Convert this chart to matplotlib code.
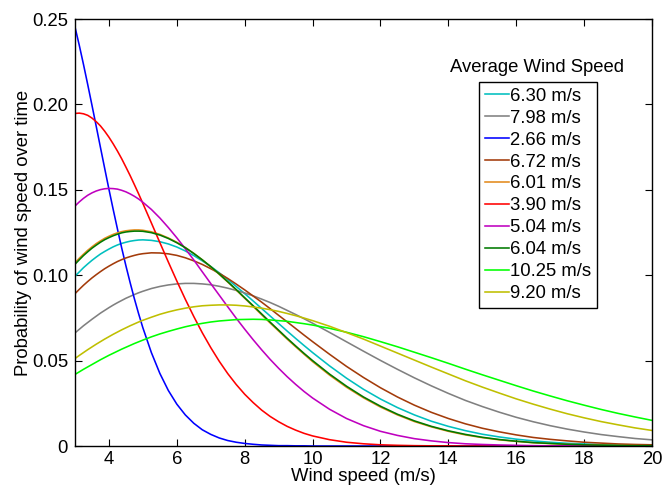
import numpy as np
import matplotlib
matplotlib.use("Agg")
import matplotlib.pyplot as plt

plt.rcParams['font.family'] = ['Liberation Sans', 'DejaVu Sans']

# Wind speed grid (m/s)
wind_speed = [3, 3.125, 3.25, 3.375, 3.5, 3.625, 3.75, 3.875, 4, 4.125, 4.25, 4.375, 4.5,
              4.625, 4.75, 4.875, 5,
              5.25, 5.5, 5.75, 6, 6.25, 6.5, 6.75, 7, 7.25, 7.5, 7.75, 8, 8.25, 8.5, 8.75,
              9, 9.25, 9.5, 9.75, 10,
              10.5, 11, 11.5, 12, 12.5, 13, 13.5, 14, 14.5, 15, 15.5, 16, 16.5, 17, 17.5,
              18, 18.5, 19, 19.5, 20]

labels = ['6.30 m/s', '7.98 m/s', '2.66 m/s', '6.72 m/s', '6.01 m/s',
          '3.90 m/s', '5.04 m/s', '6.04 m/s', '10.25 m/s', '9.20 m/s']

# Probability values, in units of 1e-4
p_630 = [994, 1019, 1044, 1066, 1087, 1106, 1124, 1139, 1153, 1166, 1177, 1186, 1193, 1199, 1203, 1206, 1207,
         1204, 1196, 1183, 1165, 1142, 1115, 1084, 1051, 1014, 975, 934, 892, 849, 805, 761, 717, 673, 630, 588, 547,
         469, 397, 332, 275, 225, 182, 145, 115, 90, 69, 53, 40, 30, 22, 16, 12, 8, 6, 4, 3]
p_798 = [662, 683, 704, 723, 742, 760, 778, 794, 810, 825, 839, 852, 865, 876, 887, 897, 906,
         922, 934, 943, 949, 952, 952, 949, 944, 935, 924, 911, 896, 879, 860, 840, 818, 794, 770, 745, 719,
         665, 610, 555, 501, 449, 399, 352, 308, 267, 231, 198, 168, 142, 119, 99, 82, 67, 55, 44, 36]
p_266 = [2453, 2347, 2234, 2116, 1995, 1872, 1748, 1625, 1503, 1385, 1271, 1160, 1055, 956, 862, 774, 692,
         547, 425, 325, 245, 182, 133, 95, 68, 47, 32, 22, 15, 10, 6, 4, 2, 2, 1, 1, 0,
         0, 0, 0, 0, 0, 0, 0, 0, 0, 0, 0, 0, 0, 0, 0, 0, 0, 0, 0, 0]
p_672 = [892, 917, 941, 963, 984, 1003, 1021, 1038, 1053, 1067, 1080, 1091, 1101, 1109, 1116, 1122, 1126,
         1131, 1130, 1125, 1116, 1102, 1084, 1063, 1038, 1011, 981, 948, 914, 878, 842, 804, 765, 727, 688, 649, 611,
         537, 466, 401, 341, 287, 239, 197, 161, 130, 104, 83, 65, 50, 39, 30, 22, 17, 12, 9, 7]
p_601 = [1073, 1099, 1123, 1146, 1166, 1185, 1201, 1216, 1228, 1239, 1248, 1255, 1260, 1263, 1265, 1265, 1263,
         1254, 1239, 1218, 1193, 1162, 1128, 1090, 1049, 1005, 960, 913, 865, 817, 768, 720, 673, 626, 581, 537, 494,
         415, 344, 282, 228, 182, 143, 112, 86, 65, 49, 36, 27, 19, 14, 10, 7, 5, 3, 2, 1]
p_390 = [1947, 1949, 1945, 1936, 1920, 1899, 1874, 1843, 1808, 1769, 1727, 1682, 1633, 1583, 1530, 1476, 1420,
         1306, 1191, 1077, 966, 859, 758, 663, 576, 496, 424, 360, 303, 254, 210, 173, 142, 115, 93, 74, 59,
         37, 22, 13, 7, 4, 2, 1, 1, 0, 0, 0, 0, 0, 0, 0, 0, 0, 0, 0, 0]
p_504 = [1405, 1429, 1450, 1468, 1482, 1493, 1501, 1506, 1508, 1507, 1504, 1497, 1488, 1476, 1462, 1446, 1427,
         1385, 1335, 1279, 1219, 1155, 1089, 1020, 951, 883, 815, 748, 684, 622, 563, 507, 455, 406, 361, 319, 281,
         215, 161, 119, 86, 62, 43, 30, 20, 13, 9, 6, 4, 2, 1, 1, 0, 0, 0, 0, 0]
p_604 = [1064, 1090, 1115, 1137, 1158, 1176, 1193, 1208, 1220, 1231, 1240, 1248, 1253, 1256, 1258, 1258, 1257,
         1249, 1235, 1215, 1190, 1161, 1127, 1090, 1050, 1007, 962, 916, 868, 821, 773, 725, 678, 631, 586, 542, 500,
         421, 350, 287, 233, 186, 147, 115, 89, 68, 51, 38, 28, 20, 15, 10, 7, 5, 3, 2, 2]
p_1025 = [419, 434, 449, 463, 477, 491, 505, 518, 531, 543, 555, 567, 578, 589, 600, 610, 620,
          639, 656, 671, 685, 698, 709, 718, 726, 732, 736, 740, 741, 742, 741, 738, 734, 730, 723, 716, 708,
          689, 666, 640, 611, 581, 549, 517, 484, 450, 417, 385, 353, 322, 293, 265, 239, 214, 191, 170, 150]
p_920 = [512, 530, 547, 564, 580, 596, 611, 626, 640, 654, 667, 680, 692, 704, 715, 726, 736,
         754, 771, 785, 797, 807, 815, 821, 824, 826, 826, 824, 820, 814, 807, 798, 788, 776, 763, 749, 734,
         701, 664, 626, 585, 544, 503, 462, 422, 382, 345, 310, 276, 245, 216, 189, 165, 143, 124, 106, 91]

series = [p_630, p_798, p_266, p_672, p_601, p_390, p_504, p_604, p_1025, p_920]
colors = ['#00bfbf', '#808080', '#0000ff', '#a33b0a', '#e38a1c',
          '#ff0000', '#bf00bf', '#007a00', '#00ff00', '#bfbf00']

x_ticks = [4, 6, 8, 10, 12, 14, 16, 18, 20]
y_ticks = [0, 0.05, 0.10, 0.15, 0.20, 0.25]
y_tick_labels = ['0', '0.05', '0.10', '0.15', '0.20', '0.25']

FS = 13.3
W, H = 663, 486
fig = plt.figure(figsize=(W / 100, H / 100), dpi=100)
ax = fig.add_axes([75 / W, 1 - 446 / H, (652 - 75) / W, (446 - 19) / H])

handles = []
for vals, c, lab in zip(series, colors, labels):
    h, = ax.plot(wind_speed, np.asarray(vals) / 1e4, color=c, lw=1.15, label=lab,
                 solid_joinstyle='round')
    handles.append(h)

ax.set_xlim(3, 20)
ax.set_ylim(0, 0.25)
ax.set_xticks(x_ticks)
ax.set_xticklabels([str(t) for t in x_ticks])
ax.set_yticks(y_ticks)
ax.set_yticklabels(y_tick_labels)
ax.tick_params(direction='in', length=5, width=0.8, top=True, right=True,
               labelsize=FS, colors='black')
ax.tick_params(axis='x', pad=3.5)
ax.tick_params(axis='y', pad=5)
for s in ax.spines.values():
    s.set_linewidth(1.0)
    s.set_color('black')

ax.set_xlabel('Wind speed (m/s)', fontsize=FS, labelpad=0)
ax.set_ylabel('Probability of wind speed over time', fontsize=FS, labelpad=0)

leg = fig.legend(handles=handles, loc='upper left',
                 bbox_to_anchor=(479 / W, 1 - 82 / H), bbox_transform=fig.transFigure,
                 fontsize=FS, frameon=True, fancybox=False, framealpha=1,
                 edgecolor='black', handlelength=1.3, handletextpad=0.1,
                 labelspacing=0.27, borderpad=0.3, borderaxespad=0)
leg.get_frame().set_linewidth(1.0)
fig.text(537 / W, 1 - 68 / H, 'Average Wind Speed', fontsize=FS,
         ha='center', va='center')

fig.savefig('out.png', dpi=100)
